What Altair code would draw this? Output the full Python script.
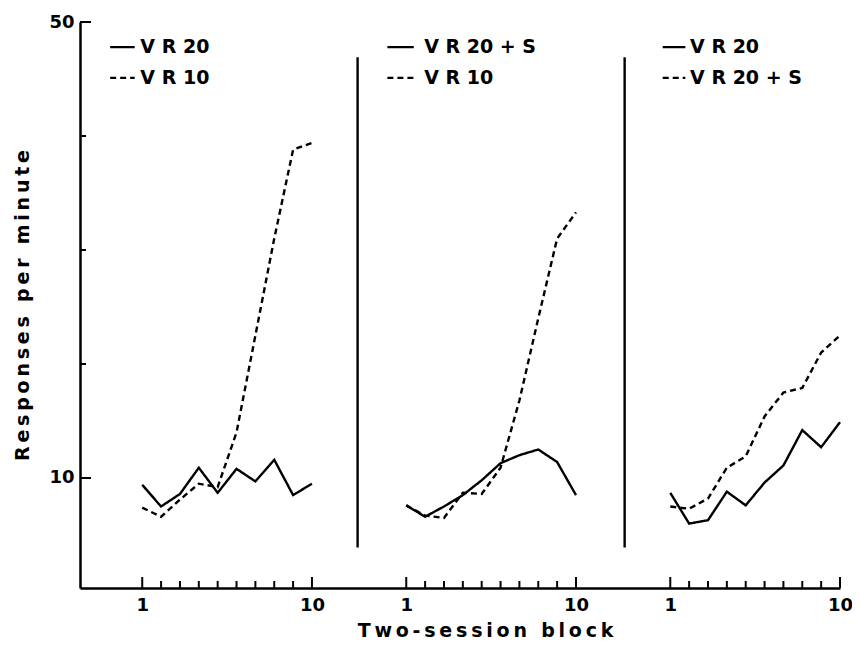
import altair as alt
import pandas as pd

# ---- data ----
blocks = [1, 2, 3, 4, 5, 6, 7, 8, 9, 10]

p1_vr20 = [9.4, 7.5, 8.6, 10.9, 8.7, 10.8, 9.7, 11.6, 8.5, 9.5]
p1_vr10 = [7.4, 6.6, 8.1, 9.5, 9.2, 14.0, 22.5, 31.0, 38.8, 39.4]

p2_vr20s = [7.6, 6.6, 7.5, 8.5, 9.8, 11.3, 12.0, 12.5, 11.4, 8.5]
p2_vr10 = [7.6, 6.7, 6.5, 8.7, 8.6, 10.9, 16.8, 24.0, 31.0, 33.3]

p3_vr20 = [8.7, 6.0, 6.3, 8.8, 7.6, 9.6, 11.1, 14.2, 12.7, 14.9]
p3_vr20s = [7.5, 7.3, 8.2, 10.9, 11.9, 15.4, 17.5, 17.9, 21.0, 22.5]

panel_series = [
    # (panel, solid label, solid values, dashed label, dashed values)
    (0, "V R 20", p1_vr20, "V R 10", p1_vr10),
    (1, "V R 20 + S", p2_vr20s, "V R 10", p2_vr10),
    (2, "V R 20", p3_vr20, "V R 20 + S", p3_vr20s),
]

y_ticks_major = [10, 50]
y_ticks_minor = [20, 30, 40]
x_tick_major = [1, 10]
x_tick_minor = [2, 3, 4, 5, 6, 7, 8, 9]

x_title = "Two-session block"
y_title = "Responses per minute"

# layout constants (one shared x scale, three side-by-side panels)
PANEL_SHIFT = 14
X_DOMAIN = [-2.3, 38]
Y_DOMAIN = [0.35, 50]
W, H = 760, 566
SEP_X = [12.42, 26.58]
SEP_Y = (46.9, 3.9)
LEG_Y = [47.8, 45.1]

FONT = "DejaVu Sans"
THIN = "\u2009"


def spaced(s):
    return THIN.join(list(s))


rows = []
for p, sl, sv, dl, dv in panel_series:
    for b, v in zip(blocks, sv):
        rows.append(dict(panel=p, series=f"{p}-solid", style="solid", block=b, value=v))
    for b, v in zip(blocks, dv):
        rows.append(dict(panel=p, series=f"{p}-dashed", style="dashed", block=b, value=v))
df = pd.DataFrame(rows)
df["u"] = df["block"] + df["panel"] * PANEL_SHIFT

xs = alt.Scale(domain=X_DOMAIN, nice=False, zero=False)
ys = alt.Scale(domain=Y_DOMAIN, nice=False, zero=False)
dash = alt.Scale(domain=["solid", "dashed"], range=[[1, 0], [6, 4]])

label_vals = []
for p in range(3):
    label_vals += [1 + p * PANEL_SHIFT, 10 + p * PANEL_SHIFT]

xaxis = alt.Axis(
    values=label_vals,
    labelExpr="(datum.value % 14 == 1) ? '1' : '10'",
    ticks=False, grid=False, domainColor="black", domainWidth=2.5,
    labelFont=FONT, labelFontSize=18, labelFontWeight="bold", labelColor="black",
    labelPadding=8, labelFlush=False,
    title=spaced(x_title), titleFont=FONT, titleFontSize=19,
    titleFontWeight="bold", titleColor="black", titlePadding=7,
    titleX=405, titleAlign="center",
)
yaxis = alt.Axis(
    values=y_ticks_major, ticks=False, grid=False, domainColor="black",
    domainWidth=2.5, labelFont=FONT, labelFontSize=18, labelFontWeight="bold",
    labelColor="black", labelPadding=6,
    title=spaced(y_title), titleFont=FONT, titleFontSize=19,
    titleFontWeight="bold", titleColor="black", titlePadding=16,
)

lines = alt.Chart(df).mark_line(color="black", strokeWidth=2.4).encode(
    x=alt.X("u:Q", scale=xs, axis=xaxis),
    y=alt.Y("value:Q", scale=ys, axis=yaxis),
    detail="series:N",
    strokeDash=alt.StrokeDash("style:N", scale=dash, legend=None),
    order="block:Q",
)

sep_df = pd.DataFrame({"u": SEP_X, "y1": [SEP_Y[0]] * 2, "y2": [SEP_Y[1]] * 2})
seps = alt.Chart(sep_df).mark_rule(color="black", strokeWidth=2.4).encode(
    x=alt.X("u:Q", scale=xs), y=alt.Y("y1:Q", scale=ys), y2="y2:Q"
)

ymaj = alt.Chart(pd.DataFrame({"v": y_ticks_major})).mark_rule(color="black", strokeWidth=2).encode(
    y=alt.Y("v:Q", scale=ys), x=alt.value(0), x2=alt.value(11)
)
ymin = alt.Chart(pd.DataFrame({"v": y_ticks_minor})).mark_rule(color="black", strokeWidth=2).encode(
    y=alt.Y("v:Q", scale=ys), x=alt.value(0), x2=alt.value(6)
)

xmaj_u = [t + p * PANEL_SHIFT for p in range(3) for t in x_tick_major]
xmin_u = [t + p * PANEL_SHIFT for p in range(3) for t in x_tick_minor]
xmaj = alt.Chart(pd.DataFrame({"u": xmaj_u})).mark_rule(color="black", strokeWidth=2).encode(
    x=alt.X("u:Q", scale=xs), y=alt.value(H), y2=alt.value(H - 11)
)
xmin = alt.Chart(pd.DataFrame({"u": xmin_u})).mark_rule(color="black", strokeWidth=2).encode(
    x=alt.X("u:Q", scale=xs), y=alt.value(H), y2=alt.value(H - 7)
)

leg_rows = []
leg_x = [(-0.7, 0.6, 0.9), (14.0, 15.4, 15.95), (28.6, 29.8, 30.05)]
for (p, sl, sv, dl, dv), (a, b, t) in zip(panel_series, leg_x):
    leg_rows.append(dict(style="solid", x1=a, x2=b, xt=t, y=LEG_Y[0], label=sl))
    leg_rows.append(dict(style="dashed", x1=a, x2=b, xt=t, y=LEG_Y[1], label=dl))
leg = pd.DataFrame(leg_rows)

leg_lines = alt.Chart(leg).mark_rule(color="black", strokeWidth=2.2).encode(
    x=alt.X("x1:Q", scale=xs), x2="x2:Q", y=alt.Y("y:Q", scale=ys),
    strokeDash=alt.StrokeDash("style:N", scale=dash, legend=None),
)
leg_text = alt.Chart(leg).mark_text(
    align="left", baseline="middle", font=FONT, fontSize=19, fontWeight="bold", color="black"
).encode(x=alt.X("xt:Q", scale=xs), y=alt.Y("y:Q", scale=ys), text="label:N")

chart = alt.layer(lines, seps, ymaj, ymin, xmaj, xmin, leg_lines, leg_text).properties(
    width=W, height=H,
    autosize=alt.AutoSizeParams(type="none"),
    padding={"left": 72, "top": 14, "right": 12, "bottom": 56},
    background="white",
).configure_view(stroke=None)

chart.save("out.html", embed_options={"renderer": "svg", "actions": False})
